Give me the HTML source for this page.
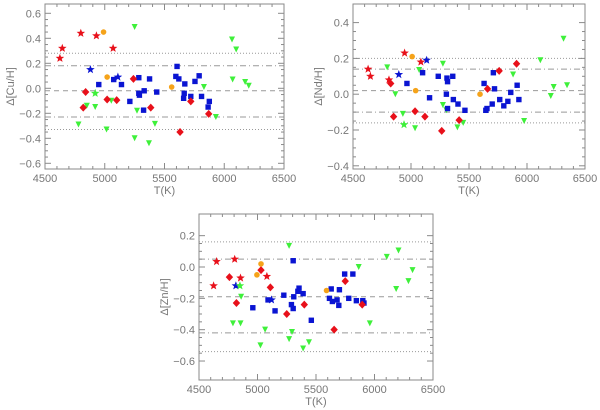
<!DOCTYPE html>
<html><head><meta charset="utf-8"><style>
html,body{margin:0;padding:0;background:#fff;}
svg{display:block;font-family:"Liberation Sans",sans-serif;}
</style></head><body>
<svg id="chart" width="600" height="410" viewBox="0 0 600 410"></svg>
<script>
// ---- Panel 1: Cu ----
const cuRedStarT=[4625,4645,4800,4930,5070];
const cuRedStarV=[0.24,0.32,0.44,0.42,0.32];
const cuBlueStarT=[4880,5110];
const cuBlueStarV=[0.15,0.09];
const cuOrangeT=[4990,5020,5560];
const cuOrangeV=[0.45,0.09,0.01];
const cuRedDiaT=[4840,4820,5020,5100,5240,5385,5720,5630,5870];
const cuRedDiaV=[-0.03,-0.155,-0.09,-0.095,0.075,-0.155,-0.105,-0.35,-0.205];
const cuGreenStarT=[4920];
const cuGreenStarV=[-0.04];
const cuGreenT=[5250,4850,4780,4920,5055,5015,5270,5250,5420,5370,5830,5930,6065,6100,6070,6175,6205];
const cuGreenV=[0.49,-0.14,-0.29,-0.15,-0.1,-0.33,-0.18,-0.4,-0.285,-0.44,0.01,-0.23,0.39,0.31,0.07,0.05,0.02];
const cuBlueT=[4950,5075,5140,5210,5285,5285,5290,5325,5330,5375,5435,5595,5605,5620,5670,5665,5660,5720,5755,5790,5810,5865,5875];
const cuBlueV=[0.03,0.07,0.03,-0.105,0.085,-0.04,-0.055,-0.175,-0.02,0.075,-0.03,0.095,0.175,0.075,0.035,-0.04,-0.08,-0.065,0.055,0.1,-0.065,-0.15,-0.105];
const cuLines=[0.28,0.18,-0.02,-0.23,-0.33];
const cuYTicks=[-0.6,-0.4,-0.2,0.0,0.2,0.4,0.6];
// ---- Panel 2: Nd ----
const ndRedStarT=[4630,4650,4810,4945,5085];
const ndRedStarV=[0.14,0.10,0.08,0.23,0.18];
const ndBlueStarT=[4895,5135];
const ndBlueStarV=[0.11,0.19];
const ndOrangeT=[5010,5040,5595];
const ndOrangeV=[0.21,0.02,0.0];
const ndRedDiaT=[4825,4850,5035,5120,5265,5415,5660,5760,5910];
const ndRedDiaV=[0.06,-0.125,-0.095,-0.125,-0.205,-0.145,0.03,0.13,0.17];
const ndGreenStarT=[4940];
const ndGreenStarV=[-0.17];
const ndGreenT=[4795,4865,4930,5070,5035,5275,5275,5305,5400,5450,5880,5975,6115,6205,6230,6315,6345];
const ndGreenV=[0.15,0.0,-0.11,0.135,-0.19,0.17,-0.06,-0.09,-0.185,-0.16,0.11,-0.15,0.19,-0.01,0.04,0.31,0.05];
const ndBlueT=[4965,5100,5160,5235,5305,5310,5315,5315,5360,5365,5405,5465,5630,5645,5655,5700,5710,5720,5765,5800,5835,5860,5915,5930];
const ndBlueV=[0.06,0.12,-0.02,0.10,0.0,0.09,0.07,-0.08,0.10,-0.03,-0.055,-0.09,0.06,-0.09,-0.08,-0.055,0.12,0.03,-0.03,-0.065,-0.04,0.01,0.05,-0.03];
const ndLines=[0.20,0.14,0.02,-0.10,-0.16];
const ndYTicks=[-0.4,-0.2,0.0,0.2,0.4];
// ---- Panel 3: Zn ----
const znRedStarT=[4625,4650,4805,4855,5080];
const znRedStarV=[-0.12,0.035,0.05,-0.07,-0.06];
const znBlueStarT=[4815,5120];
const znBlueStarV=[-0.12,-0.21];
const znOrangeT=[4995,5030,5590];
const znOrangeV=[-0.05,0.02,-0.15];
const znRedDiaT=[4760,4820,5030,5110,5250,5400,5655,5750,5895];
const znRedDiaV=[-0.065,-0.23,-0.02,-0.13,-0.30,-0.24,-0.40,-0.09,-0.24];
const znGreenStarT=[4850];
const znGreenStarV=[-0.12];
const znGreenT=[5270,4860,4790,4855,5065,5025,5270,5295,5390,5440,5865,5960,6105,6205,6185,6290,6325];
const znGreenV=[0.135,-0.19,-0.36,-0.36,-0.40,-0.50,-0.46,-0.415,-0.52,-0.48,0.0,-0.36,0.065,0.105,-0.14,-0.09,-0.02];
const znBlueT=[5305,4960,5090,5150,5225,5290,5305,5310,5345,5355,5390,5460,5615,5630,5640,5680,5695,5700,5745,5780,5815,5845,5900,5910];
const znBlueV=[0.04,-0.26,-0.21,-0.28,-0.18,-0.24,-0.265,-0.19,-0.155,-0.135,-0.17,-0.34,-0.20,-0.14,-0.22,-0.21,-0.245,-0.145,-0.045,-0.20,-0.045,-0.215,-0.215,-0.23];
const znLines=[0.16,0.05,-0.19,-0.42,-0.54];
const znYTicks=[-0.6,-0.4,-0.2,0.0,0.2];
const xTicks=[4500,5000,5500,6000,6500];

const NS="http://www.w3.org/2000/svg";
const svg=document.getElementById('chart');
function mk(tag,attrs,parent){const e=document.createElementNS(NS,tag);for(const k in attrs)e.setAttribute(k,attrs[k]);(parent||svg).appendChild(e);return e;}
const AX='#8a8a8a', TX='#777';
const RED='#e8101a', BLUE='#0a14d2', GREEN='#3ef03a', ORANGE='#f5a31a';

function starPts(cx,cy,r){let p=[];for(let i=0;i<10;i++){const a=-Math.PI/2+i*Math.PI/5;const rr=i%2?r*0.42:r;p.push((cx+rr*Math.cos(a)).toFixed(1)+','+(cy+rr*Math.sin(a)).toFixed(1));}return p.join(' ');}

function panel(cfg){
  const g=mk('g',{});
  
  
  const xs=t=>cfg.L+(t-4500)/2000*(cfg.R-cfg.L);
  const ys=v=>cfg.y0-v*cfg.k;
  // reference lines
  const styles=['1,2','6,3,1,3','5,4','6,3,1,3','1,2'];
  cfg.lines.forEach((v,i)=>{const l=mk('line',{x1:cfg.L,x2:cfg.R,y1:ys(v),y2:ys(v),stroke:'#999','stroke-width':1,'stroke-dasharray':styles[i]},g);
    });
  // frame
  const fr=mk('rect',{x:cfg.L,y:cfg.T,width:cfg.R-cfg.L,height:cfg.B-cfg.T,fill:'none',stroke:AX,'stroke-width':1},g);
  
  // x ticks
  for(let t=4500;t<=6500;t+=100){const x=xs(t);const len=(t%500===0)?6:3;
    mk('line',{x1:x,x2:x,y1:cfg.B,y2:cfg.B-len,stroke:AX},g);mk('line',{x1:x,x2:x,y1:cfg.T,y2:cfg.T+len,stroke:AX},g);}
  xTicks.forEach(t=>{const tx=mk('text',{x:xs(t),y:cfg.B+13,'font-size':11,fill:TX,'text-anchor':'middle'},g);tx.textContent=t;
    });
  // y ticks
  const lo=cfg.yTicks[0],hi=cfg.yTicks[cfg.yTicks.length-1];
  for(let v=lo;v<=hi+1e-6;v+=0.05){const y=ys(v);const major=Math.abs(Math.round(v*100)%20)===0;const len=major?6:3;
    mk('line',{x1:cfg.L,x2:cfg.L+len,y1:y,y2:y,stroke:AX},g);mk('line',{x1:cfg.R,x2:cfg.R-len,y1:y,y2:y,stroke:AX},g);}
  cfg.yTicks.forEach(v=>{const tx=mk('text',{x:cfg.L-4,y:ys(v)+4,'font-size':11,fill:TX,'text-anchor':'end'},g);
    tx.textContent=(v<0?'\u2212':'')+Math.abs(v).toFixed(1);
    });
  const xt=mk('text',{x:(cfg.L+cfg.R)/2,y:cfg.B+25,'font-size':11,fill:TX,'text-anchor':'middle'},g);xt.textContent='T(K)';
  
  const yt=mk('text',{x:0,y:0,'font-size':11,fill:TX,'text-anchor':'middle',transform:`translate(${cfg.L-31},${(cfg.T+cfg.B)/2}) rotate(-90)`},g);yt.textContent=cfg.ylab;
  
  // markers
  const d=cfg.data;
  d.green.t.forEach((t,i)=>{const x=xs(t),y=ys(d.green.v[i]);const m=mk('polygon',{points:`${x-3},${y-3} ${x+3},${y-3} ${x},${y+3}`,fill:GREEN},g);
    });
  d.blue.t.forEach((t,i)=>{const x=xs(t),y=ys(d.blue.v[i]);const m=mk('rect',{x:x-2.7,y:y-2.7,width:5.4,height:5.4,fill:BLUE},g);
    });
  d.redDia.t.forEach((t,i)=>{const x=xs(t),y=ys(d.redDia.v[i]);const m=mk('polygon',{points:`${x},${y-4} ${x+3.7},${y} ${x},${y+4} ${x-3.7},${y}`,fill:RED},g);
    });
  d.orange.t.forEach((t,i)=>{const m=mk('circle',{cx:xs(t),cy:ys(d.orange.v[i]),r:2.8,fill:ORANGE},g);
    });
  [[d.redStar,RED,'red-star-point'],[d.blueStar,BLUE,'blue-star-point'],[d.greenStar,GREEN,'green-star-point']].forEach(([s,c,n])=>{
    s.t.forEach((t,i)=>{const m=mk('polygon',{points:starPts(xs(t),ys(s.v[i]),4.5),fill:c},g);
      });});
}

panel({name:'cu-panel',L:45,R:284,T:4,B:169,y0:88.3,k:125,ylab:'\u0394[Cu/H]',lines:cuLines,yTicks:cuYTicks,
  data:{redStar:{t:cuRedStarT,v:cuRedStarV},blueStar:{t:cuBlueStarT,v:cuBlueStarV},greenStar:{t:cuGreenStarT,v:cuGreenStarV},
  orange:{t:cuOrangeT,v:cuOrangeV},redDia:{t:cuRedDiaT,v:cuRedDiaV},green:{t:cuGreenT,v:cuGreenV},blue:{t:cuBlueT,v:cuBlueV}}});
panel({name:'nd-panel',L:353,R:585,T:4,B:169,y0:94.2,k:179,ylab:'\u0394[Nd/H]',lines:ndLines,yTicks:ndYTicks,
  data:{redStar:{t:ndRedStarT,v:ndRedStarV},blueStar:{t:ndBlueStarT,v:ndBlueStarV},greenStar:{t:ndGreenStarT,v:ndGreenStarV},
  orange:{t:ndOrangeT,v:ndOrangeV},redDia:{t:ndRedDiaT,v:ndRedDiaV},green:{t:ndGreenT,v:ndGreenV},blue:{t:ndBlueT,v:ndBlueV}}});
panel({name:'zn-panel',L:199,R:433,T:214,B:380,y0:267,k:156.7,ylab:'\u0394[Zn/H]',lines:znLines,yTicks:znYTicks,
  data:{redStar:{t:znRedStarT,v:znRedStarV},blueStar:{t:znBlueStarT,v:znBlueStarV},greenStar:{t:znGreenStarT,v:znGreenStarV},
  orange:{t:znOrangeT,v:znOrangeV},redDia:{t:znRedDiaT,v:znRedDiaV},green:{t:znGreenT,v:znGreenV},blue:{t:znBlueT,v:znBlueV}}});
</script>
</body></html>
